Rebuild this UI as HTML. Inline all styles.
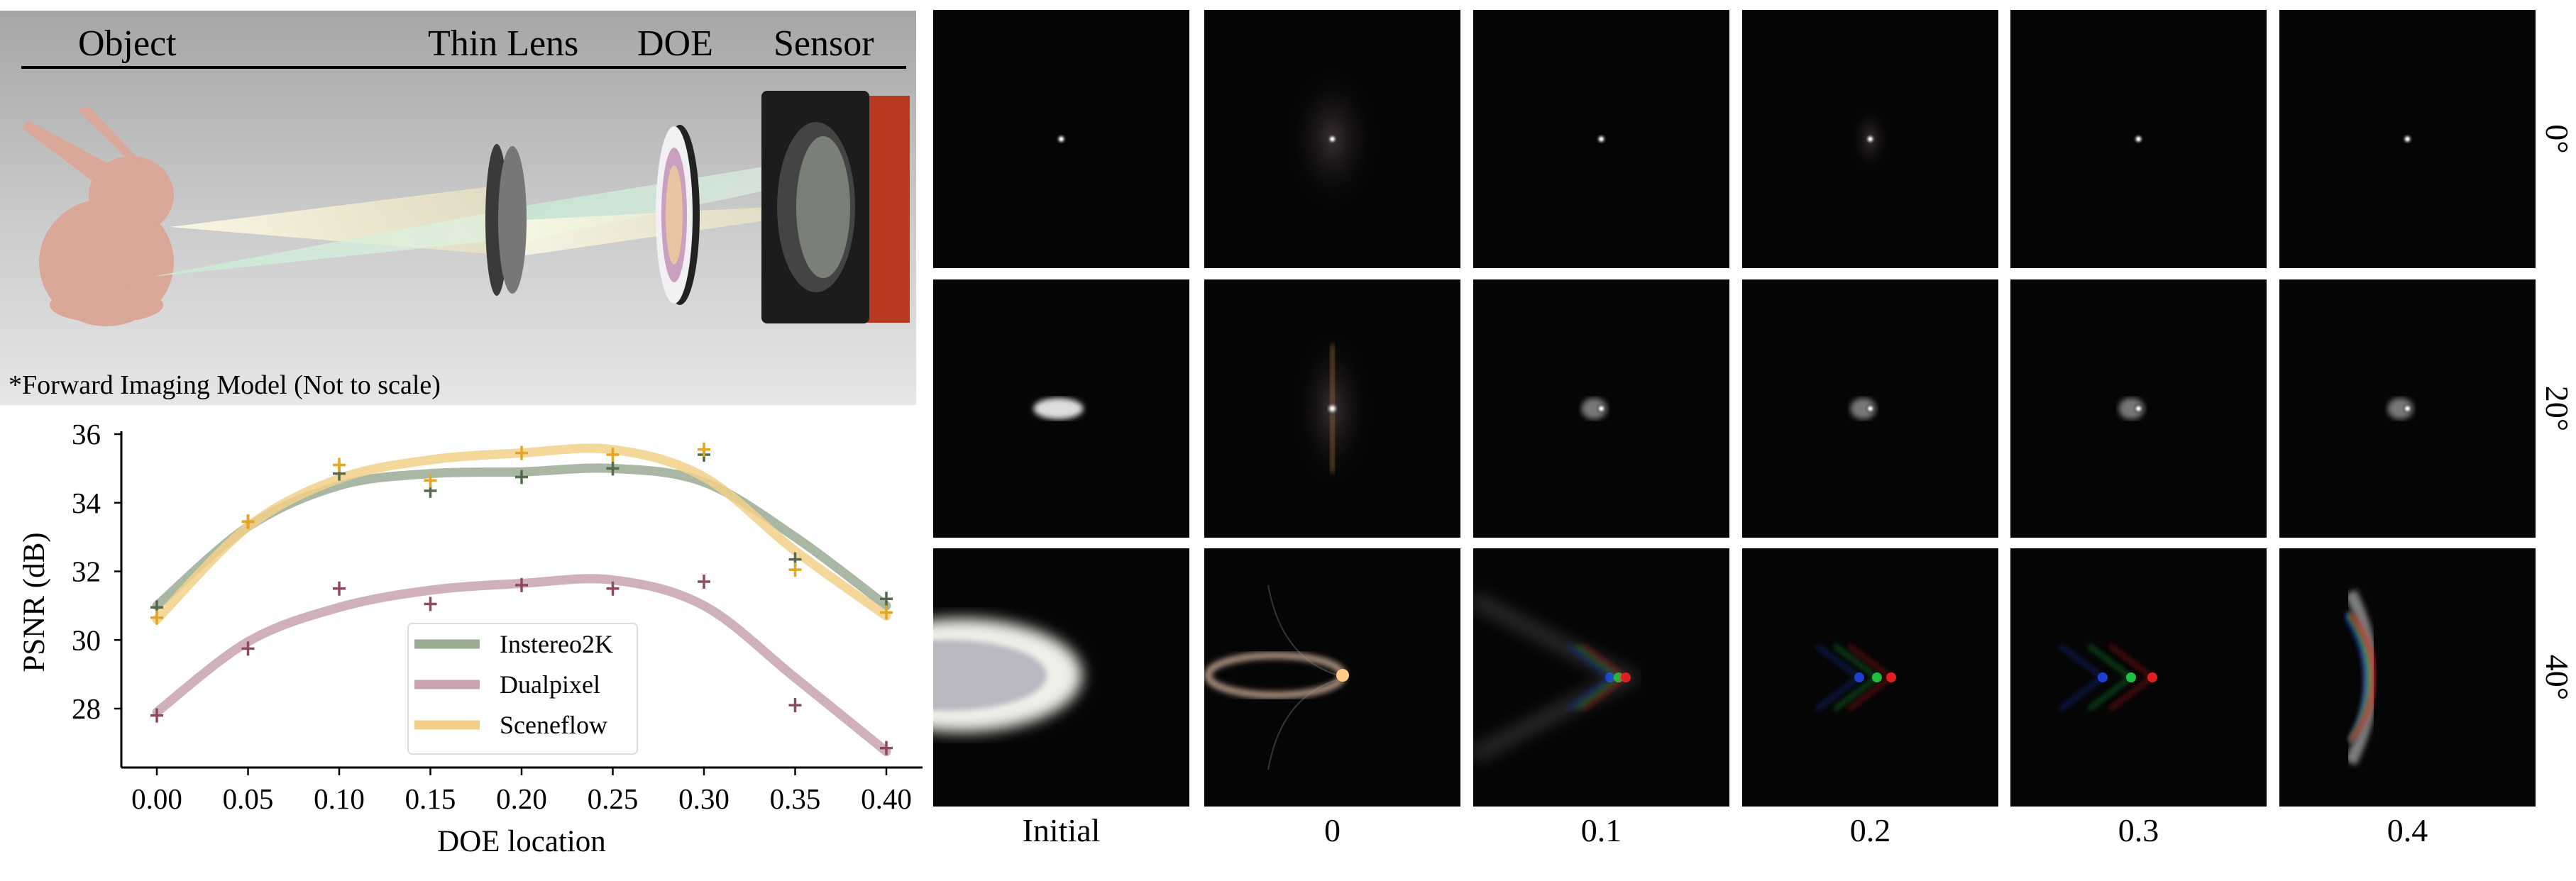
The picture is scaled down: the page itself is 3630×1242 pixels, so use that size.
<!DOCTYPE html>
<html><head><meta charset="utf-8"><style>
html,body{margin:0;padding:0;background:#fff;}
svg{display:block;}
text{font-family:"Liberation Serif",serif;}
</style></head><body>
<svg id="root" width="3630" height="1242" viewBox="0 0 3630 1242" xmlns="http://www.w3.org/2000/svg">
<defs>
<linearGradient id="bg" x1="0" y1="0" x2="0" y2="1">
<stop offset="0" stop-color="#a6a6a6"/><stop offset="0.5" stop-color="#c9c9c9"/><stop offset="1" stop-color="#e6e6e6"/></linearGradient>
<linearGradient id="beamY" x1="0" y1="0" x2="1" y2="0"><stop offset="0" stop-color="#fffbe8"/><stop offset="1" stop-color="#f0e9c0" stop-opacity="0.7"/></linearGradient>
<linearGradient id="beamG" x1="0" y1="0" x2="1" y2="0"><stop offset="0" stop-color="#c8ecd4"/><stop offset="1" stop-color="#dff3e4" stop-opacity="0.8"/></linearGradient>
<radialGradient id="spot"><stop offset="0" stop-color="#fff"/><stop offset="0.25" stop-color="#ddd"/><stop offset="1" stop-color="#000" stop-opacity="0"/></radialGradient>
<radialGradient id="halo"><stop offset="0" stop-color="#3a3030"/><stop offset="1" stop-color="#000" stop-opacity="0"/></radialGradient>
<filter id="blur4"><feGaussianBlur stdDeviation="4"/></filter>
<filter id="blur10"><feGaussianBlur stdDeviation="10"/></filter>
</defs>

<g>
<rect x="0" y="15" width="1291" height="556" fill="url(#bg)"/>
<text x="110" y="78" font-size="52">Object</text>
<text x="603" y="78" font-size="52">Thin Lens</text>
<text x="898" y="78" font-size="52">DOE</text>
<text x="1090" y="78" font-size="52">Sensor</text>
<line x1="30" y1="95" x2="1277" y2="95" stroke="#000" stroke-width="4"/>
<g fill="#d9a898">
<ellipse cx="150" cy="370" rx="95" ry="90"/>
<ellipse cx="185" cy="275" rx="60" ry="55"/>
<path d="M170 240 L40 170 L30 180 L150 270 Z"/>
<path d="M195 240 L110 155 L125 150 L215 245 Z"/>
<ellipse cx="150" cy="430" rx="80" ry="25"/>
</g>
<polygon points="240,320 690,263 690,358" fill="url(#beamY)" opacity="0.9"/>
<polygon points="215,390 690,300 690,340" fill="url(#beamG)" opacity="0.85"/>
<polygon points="740,290 1120,228 1120,260 740,340" fill="url(#beamG)" opacity="0.8"/>
<polygon points="740,310 1120,290 1120,305 740,360" fill="url(#beamY)" opacity="0.8"/>
<g>
<ellipse cx="700" cy="310" rx="16" ry="107" fill="#3a3a3a"/>
<ellipse cx="722" cy="310" rx="20" ry="104" fill="#777"/>
</g>
<g>
<ellipse cx="958" cy="303" rx="28" ry="127" fill="#222"/>
<ellipse cx="950" cy="303" rx="26" ry="125" fill="#f3f0f3"/>
<ellipse cx="950" cy="303" rx="18" ry="95" fill="#c8a0c0"/>
<ellipse cx="950" cy="303" rx="12" ry="70" fill="#e8c4a0"/>
</g>
<g>
<rect x="1215" y="135" width="67" height="320" fill="#b83a22"/>
<rect x="1073" y="128" width="152" height="328" rx="8" fill="#1c1c1c"/>
<ellipse cx="1150" cy="292" rx="55" ry="120" fill="#444"/>
<ellipse cx="1160" cy="292" rx="38" ry="100" fill="#7a7f78"/>
</g>
<text x="12" y="555" font-size="38">*Forward Imaging Model (Not to scale)</text>
</g>

<g id="chart"></g>
<g id="psf"></g>
</svg>
<script>
const xTicks=[0,0.05,0.1,0.15,0.2,0.25,0.3,0.35,0.4];
const xTickLabels=["0.00","0.05","0.10","0.15","0.20","0.25","0.30","0.35","0.40"];
const yTicks=[28,30,32,34,36];
const seriesNames=["Instereo2K","Dualpixel","Sceneflow"];
const instereoPts=[30.95,33.45,34.85,34.35,34.75,35.0,35.4,32.35,31.2];
const dualPts=[27.8,29.75,31.5,31.05,31.6,31.5,31.7,28.1,26.85];
const scenePts=[30.65,33.45,35.1,34.65,35.45,35.4,35.55,32.05,30.8];
const instereoFit=[31.0,33.3,34.5,34.85,34.9,35.0,34.6,33.0,31.0];
const dualFit=[27.9,29.95,30.95,31.45,31.65,31.75,31.0,28.9,26.75];
const sceneFit=[30.6,33.3,34.7,35.25,35.45,35.55,34.75,32.6,30.7];

const NS="http://www.w3.org/2000/svg";
function mk(tag,attrs,parent){const e=document.createElementNS(NS,tag);for(const k in attrs)e.setAttribute(k,attrs[k]);parent.appendChild(e);return e;}
const X=v=>221+(v-0)*(1249-221)/0.4;
const Y=v=>612+(36-v)*(999-612)/8;
const chart=document.getElementById('chart');
let a=mk('line',{x1:171,y1:608,x2:171,y2:1082,stroke:'#000','stroke-width':3},chart);


a=mk('line',{x1:171,y1:1082,x2:1300,y2:1082,stroke:'#000','stroke-width':3},chart);


yTicks.forEach(t=>{
 mk('line',{x1:161,y1:Y(t),x2:171,y2:Y(t),stroke:'#000','stroke-width':2.5},chart);
 const tx=mk('text',{x:142,y:Y(t)+14,'font-size':41,'text-anchor':'end'},chart);tx.textContent=t;
 
 
});
xTicks.forEach((t,i)=>{
 mk('line',{x1:X(t),y1:1082,x2:X(t),y2:1093,stroke:'#000','stroke-width':2.5},chart);
 const tx=mk('text',{x:X(t),y:1140,'font-size':41,'text-anchor':'middle'},chart);tx.textContent=xTickLabels[i];
 
 
});
let t=mk('text',{x:735,y:1200,'font-size':43,'text-anchor':'middle'},chart);t.textContent='DOE location';


t=mk('text',{x:0,y:0,'font-size':43,'text-anchor':'middle',transform:'translate(62,849) rotate(-90)'},chart);t.textContent='PSNR (dB)';


function smooth(vals){
 const p=vals.map((v,i)=>[X(xTicks[i]),Y(v)]);
 let d=`M${p[0][0]},${p[0][1]}`;
 for(let i=0;i<p.length-1;i++){
  const p0=p[Math.max(0,i-1)],p1=p[i],p2=p[i+1],p3=p[Math.min(p.length-1,i+2)];
  d+=` C${p1[0]+(p2[0]-p0[0])/6},${p1[1]+(p2[1]-p0[1])/6} ${p2[0]-(p3[0]-p1[0])/6},${p2[1]-(p3[1]-p1[1])/6} ${p2[0]},${p2[1]}`;
 }
 return d;
}
const fits=[instereoFit,dualFit,sceneFit];
const pts=[instereoPts,dualPts,scenePts];
const lineCols=['#9aab94','#c9a3ad','#f2d08a'];
const mkCols=['#55694c','#8c4a62','#e2a524'];
const lineNames=['instereo2k-curve','dualpixel-curve','sceneflow-curve'];
fits.forEach((f,s)=>{
 const l=mk('path',{d:smooth(f),fill:'none',stroke:lineCols[s],'stroke-width':13,'stroke-opacity':0.85,'stroke-linecap':'round'},chart);
 
 
});
pts.forEach((arr,s)=>{
 arr.forEach((v,i)=>{
  const cx=X(xTicks[i]),cy=Y(v);
  const m=mk('path',{d:`M${cx-9},${cy}H${cx+9}M${cx},${cy-10}V${cy+10}`,stroke:mkCols[s],'stroke-width':3.5},chart);
  
  
 });
});
const lg=mk('g',{},chart);


mk('rect',{x:575,y:879,width:323,height:184,rx:6,fill:'#fff','fill-opacity':0.85,stroke:'#ddd','stroke-width':2},lg);
seriesNames.forEach((n,i)=>{
 const yy=908+i*57;
 const sw=mk('line',{x1:584,y1:yy,x2:676,y2:yy,stroke:lineCols[i],'stroke-width':13},lg);
 
 
 const tx=mk('text',{x:704,y:yy+12,'font-size':36},lg);tx.textContent=n;
 
 
});

const psf=document.getElementById('psf');
const colX=[1315,1697,2076,2455,2833,3212];
const rowY=[14,394,773];
const colLabels=["Initial","0","0.1","0.2","0.3","0.4"];
const rowLabels=["0°","20°","40°"];
const TW=361,TH=364;
rowY.forEach((ry,r)=>{colX.forEach((cx,c)=>{
 const g=mk('g',{},psf);
 
 
 mk('rect',{x:cx,y:ry,width:TW,height:TH,fill:'#050505'},g);
 const mx=cx+TW/2,my=ry+TH/2;
 if(r===0){
  if(c===1) mk('ellipse',{cx:mx,cy:my,rx:70,ry:110,fill:'url(#halo)'},g);
  if(c===3) mk('ellipse',{cx:mx,cy:my,rx:30,ry:50,fill:'url(#halo)'},g);
  mk('circle',{cx:mx,cy:my,r:8,fill:'url(#spot)'},g);
 } else if(r===1){
  if(c===0){mk('ellipse',{cx:mx-4,cy:my,rx:35,ry:15,fill:'#ddd',filter:'url(#blur4)'},g);}
  else if(c===1){mk('ellipse',{cx:mx,cy:my,rx:60,ry:120,fill:'url(#halo)'},g);mk('rect',{x:mx-3,y:my-90,width:6,height:180,fill:'#b08040',opacity:0.6,filter:'url(#blur4)'},g);mk('circle',{cx:mx,cy:my,r:10,fill:'url(#spot)'},g);}
  else{mk('ellipse',{cx:mx-10,cy:my,rx:18,ry:15,fill:'#777',filter:'url(#blur4)'},g);mk('circle',{cx:mx,cy:my,r:8,fill:'url(#spot)'},g);}
 } else {
  const cl=`url(#clip${c})`;
  const cp=mk('clipPath',{id:'clip'+c},g);mk('rect',{x:cx,y:ry,width:TW,height:TH},cp);
  const gg=mk('g',{'clip-path':cl},g);
  if(c===0){mk('ellipse',{cx:cx+40,cy:my-3,rx:170,ry:80,fill:'#f0eee8',filter:'url(#blur10)'},gg);mk('ellipse',{cx:cx+20,cy:my-3,rx:140,ry:50,fill:'#b8b8c0',filter:'url(#blur4)'},gg);}
  else if(c===1){mk('path',{d:`M${cx+90},${my-130} Q${cx+110},${my-20} ${cx+200},${my} Q${cx+110},${my+20} ${cx+90},${my+130}`,fill:'none',stroke:'#4a5a60','stroke-width':2,opacity:0.6},gg);mk('ellipse',{cx:cx+100,cy:my-3,rx:95,ry:28,fill:'none',stroke:'#a89080','stroke-width':10,filter:'url(#blur4)'},gg);mk('circle',{cx:cx+195,cy:my-3,r:9,fill:'#ffcc88'},gg);}
  else {
   const tipx=[0,0,cx+215,cx+210,cx+200,cx+130][c];
   const offs=c===3?[ -45,-20,0]:c===4?[-70,-30,0]:[-22,-10,0];
   const cols=['#2040d0','#20c040','#e02020'];
   if(c===2) mk('path',{d:`M${cx},${my-110} L${tipx},${my} L${cx},${my+110}`,fill:'none',stroke:'#666','stroke-width':24,opacity:0.35,filter:'url(#blur10)'},gg);
   if(c===5) mk('path',{d:`M${tipx-30},${my-120} Q${tipx+30},${my} ${tipx-30},${my+120}`,fill:'none',stroke:'#ccc','stroke-width':18,opacity:0.6,filter:'url(#blur4)'},gg);
   offs.forEach((o,k)=>{
    if(c===5) mk('path',{d:`M${tipx-30+o*0.3},${my-90} Q${tipx+20+k*8},${my} ${tipx-30},${my+90}`,fill:'none',stroke:cols[k],'stroke-width':7,opacity:0.8,filter:'url(#blur4)'},gg);
    else {mk('path',{d:`M${tipx+o-60},${my-45} L${tipx+o},${my} L${tipx+o-60},${my+45}`,fill:'none',stroke:cols[k],'stroke-width':4,opacity:0.55,filter:'url(#blur4)'},gg);
    mk('circle',{cx:tipx+o,cy:my,r:7,fill:cols[k]},gg);}
   });
  }
 }
});});
colLabels.forEach((l,i)=>{const tx=mk('text',{x:colX[i]+TW/2,y:1186,'font-size':46,'text-anchor':'middle'},psf);tx.textContent=l;
 
 });
rowLabels.forEach((l,i)=>{const tx=mk('text',{x:0,y:0,'font-size':46,'text-anchor':'middle',transform:`translate(3588,${rowY[i]+TH/2}) rotate(90)`},psf);tx.textContent=l;
 
 });
</script>
</body></html>
